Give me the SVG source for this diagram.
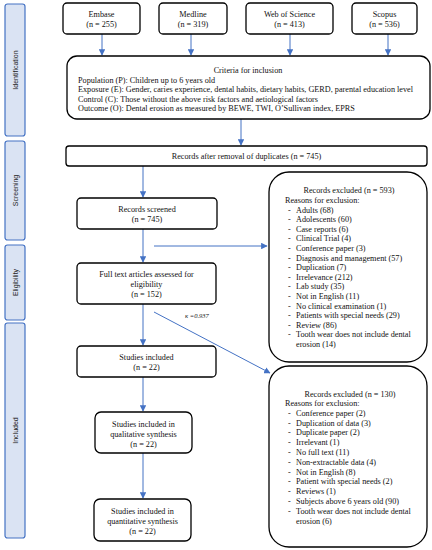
<svg xmlns="http://www.w3.org/2000/svg" width="432" height="550" viewBox="0 0 432 550">
<defs>
<marker id="ah" viewBox="0 0 10 10" refX="9" refY="5" markerWidth="6.5" markerHeight="6.5" orient="auto" markerUnits="userSpaceOnUse">
<path d="M0,0 L10,5 L0,10 z" fill="#4472c4"/>
</marker>
</defs>
<style>
.box{fill:#fff;stroke:#000;stroke-width:1.3}
.stage{fill:#dae3f3;stroke:#4472c4;stroke-width:1.2}
.st{font-family:"Liberation Sans",Arial,sans-serif;font-size:7px;fill:#222;text-anchor:middle}
text{font-family:"Liberation Serif","Times New Roman",serif;font-size:8.2px;fill:#111}
.c{text-anchor:middle}
.k{font-style:italic;font-size:6.5px}
.ln{stroke:#4472c4;stroke-width:1;fill:none;marker-end:url(#ah)}
</style>
<rect width="432" height="550" fill="#fff"/>

<g id="stages">
<rect class="stage" x="5" y="4" width="20" height="132" rx="2.5"/>
<text class="st" transform="translate(17.5,70) rotate(-90)">Identification</text>
<rect class="stage" x="5" y="141" width="20" height="99" rx="2.5"/>
<text class="st" transform="translate(17.5,190.5) rotate(-90)">Screening</text>
<rect class="stage" x="5" y="245" width="20" height="75" rx="2.5"/>
<text class="st" transform="translate(17.5,282.5) rotate(-90)">Eligibility</text>
<rect class="stage" x="5" y="323" width="20" height="215" rx="2.5"/>
<text class="st" transform="translate(17.5,430.5) rotate(-90)">Included</text>
</g>

<g id="connectors">
<line class="ln" x1="102" y1="34" x2="102" y2="55"/>
<line class="ln" x1="191" y1="34" x2="191" y2="55"/>
<line class="ln" x1="290" y1="34" x2="290" y2="55"/>
<line class="ln" x1="388" y1="34" x2="388" y2="55"/>
<line class="ln" x1="241" y1="119" x2="241" y2="145"/>
<line class="ln" x1="143" y1="166" x2="143" y2="197"/>
<line class="ln" x1="143" y1="229" x2="143" y2="262"/>
<line class="ln" x1="154" y1="246" x2="267" y2="246"/>
<line class="ln" x1="143" y1="304" x2="143" y2="345"/>
<line class="ln" x1="154" y1="312" x2="270" y2="373"/>
<line class="ln" x1="143" y1="377" x2="143" y2="411"/>
<line class="ln" x1="143" y1="453" x2="143" y2="498"/>
<text class="k" x="185" y="318">κ  =0.937</text>
</g>

<g id="embase">
<rect class="box" x="63" y="3" width="77" height="31" rx="4"/>
<text class="c" x="101.5" y="17">Embase</text>
<text class="c" x="101.5" y="27">(n = 255)</text>
</g>
<g id="medline">
<rect class="box" x="159" y="3" width="68" height="31" rx="4"/>
<text class="c" x="193" y="17">Medline</text>
<text class="c" x="193" y="27">(n = 319)</text>
</g>
<g id="wos">
<rect class="box" x="246" y="3" width="87" height="31" rx="4"/>
<text class="c" x="289.5" y="17">Web of Science</text>
<text class="c" x="289.5" y="27">(n = 413)</text>
</g>
<g id="scopus">
<rect class="box" x="352" y="3" width="65" height="31" rx="4"/>
<text class="c" x="384.5" y="17">Scopus</text>
<text class="c" x="384.5" y="27">(n = 536)</text>
</g>

<g id="criteria">
<rect class="box" x="67" y="56" width="363" height="63" rx="10"/>
<text class="c" x="248" y="73">Criteria for inclusion</text>
<text x="78" y="82.5">Population (P): Children up to 6 years old</text>
<text x="78" y="92">Exposure (E): Gender, caries experience, dental habits, dietary habits, GERD, parental education level</text>
<text x="78" y="101.5">Control (C): Those without the above risk factors and aetiological factors</text>
<text x="78" y="111">Outcome (O): Dental erosion as measured by BEWE, TWI, O’Sullivan index, EPRS</text>
</g>

<g id="dedup">
<rect class="box" x="66" y="146" width="361" height="20" rx="3"/>
<text class="c" x="246.5" y="159">Records after removal of duplicates (n = 745)</text>
</g>

<g id="screened">
<rect class="box" x="77" y="198" width="140" height="31" rx="4"/>
<text class="c" x="147" y="212">Records screened</text>
<text class="c" x="147" y="222">(n = 745)</text>
</g>

<g id="fulltext">
<rect class="box" x="77" y="263" width="139" height="41" rx="4"/>
<text class="c" x="146.5" y="277">Full text articles assessed for</text>
<text class="c" x="146.5" y="286.5">eligibility</text>
<text class="c" x="146.5" y="296.5">(n = 152)</text>
</g>

<g id="included">
<rect class="box" x="77" y="346" width="139" height="31" rx="4"/>
<text class="c" x="146.5" y="360">Studies included</text>
<text class="c" x="146.5" y="370">(n = 22)</text>
</g>

<g id="qualitative">
<rect class="box" x="95" y="412" width="97" height="41" rx="6"/>
<text class="c" x="143.5" y="426.5">Studies included in</text>
<text class="c" x="143.5" y="436.5">qualitative synthesis</text>
<text class="c" x="143.5" y="446.5">(n = 22)</text>
</g>

<g id="quantitative">
<rect class="box" x="94" y="499" width="97" height="42" rx="6"/>
<text class="c" x="142.5" y="513.5">Studies included in</text>
<text class="c" x="142.5" y="523.5">quantitative synthesis</text>
<text class="c" x="142.5" y="533.5">(n = 22)</text>
</g>

<g id="excluded593">
<rect class="box" x="269" y="172" width="158" height="190" rx="20"/>
<text class="c" x="349" y="192.5">Records excluded (n = 593)</text>
<text x="285" y="202.5">Reasons for exclusion:</text>
<g>
<text x="288" y="212.5">-</text><text x="296" y="212.5">Adults (68)</text>
<text x="288" y="222.1">-</text><text x="296" y="222.1">Adolescents (60)</text>
<text x="288" y="231.7">-</text><text x="296" y="231.7">Case reports (6)</text>
<text x="288" y="241.3">-</text><text x="296" y="241.3">Clinical Trial (4)</text>
<text x="288" y="250.9">-</text><text x="296" y="250.9">Conference paper (3)</text>
<text x="288" y="260.5">-</text><text x="296" y="260.5">Diagnosis and management (57)</text>
<text x="288" y="270.1">-</text><text x="296" y="270.1">Duplication (7)</text>
<text x="288" y="279.7">-</text><text x="296" y="279.7">Irrelevance (212)</text>
<text x="288" y="289.3">-</text><text x="296" y="289.3">Lab study (35)</text>
<text x="288" y="298.9">-</text><text x="296" y="298.9">Not in English (11)</text>
<text x="288" y="308.5">-</text><text x="296" y="308.5">No clinical examination (1)</text>
<text x="288" y="318.1">-</text><text x="296" y="318.1">Patients with special needs (29)</text>
<text x="288" y="327.7">-</text><text x="296" y="327.7">Review (86)</text>
<text x="288" y="337.3">-</text><text x="296" y="337.3">Tooth wear does not include dental</text>
<text x="296" y="346.9">erosion (14)</text>
</g>
</g>

<g id="excluded130">
<rect class="box" x="269" y="366" width="158" height="181" rx="20"/>
<text class="c" x="350" y="396.5">Records excluded (n = 130)</text>
<text x="285" y="406">Reasons for exclusion:</text>
<g>
<text x="288" y="415.8">-</text><text x="296" y="415.8">Conference paper (2)</text>
<text x="288" y="425.6">-</text><text x="296" y="425.6">Duplication of data (3)</text>
<text x="288" y="435.4">-</text><text x="296" y="435.4">Duplicate paper (2)</text>
<text x="288" y="445.2">-</text><text x="296" y="445.2">Irrelevant (1)</text>
<text x="288" y="455">-</text><text x="296" y="455">No full text (11)</text>
<text x="288" y="464.8">-</text><text x="296" y="464.8">Non-extractable data (4)</text>
<text x="288" y="474.6">-</text><text x="296" y="474.6">Not in English (8)</text>
<text x="288" y="484.4">-</text><text x="296" y="484.4">Patient with special needs (2)</text>
<text x="288" y="494.2">-</text><text x="296" y="494.2">Reviews (1)</text>
<text x="288" y="504">-</text><text x="296" y="504">Subjects above 6 years old (90)</text>
<text x="288" y="513.8">-</text><text x="296" y="513.8">Tooth wear does not include dental</text>
<text x="296" y="523.6">erosion (6)</text>
</g>
</g>
</svg>
